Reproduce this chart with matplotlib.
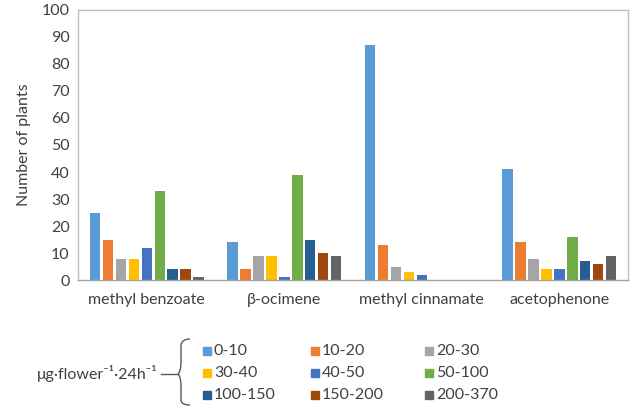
import matplotlib
matplotlib.use("Agg")
import matplotlib.pyplot as plt
import numpy as np
from matplotlib.patches import PathPatch, Rectangle
from matplotlib.path import Path

plt.rcParams['font.family'] = ['Lato', 'DejaVu Sans']

categories = ["methyl benzoate", "β-ocimene", "methyl cinnamate", "acetophenone"]
series_labels = ["0-10", "10-20", "20-30", "30-40", "40-50", "50-100", "100-150", "150-200", "200-370"]
colors = ["#5B9BD5", "#ED7D31", "#A5A5A5", "#FFC000", "#4472C4", "#70AD47", "#255E91", "#9E480E", "#636363"]
values = {
    "0-10":    [25, 14, 87, 41],
    "10-20":   [15, 4, 13, 14],
    "20-30":   [8, 9, 5, 8],
    "30-40":   [8, 9, 3, 4],
    "40-50":   [12, 1, 2, 4],
    "50-100":  [33, 39, 0, 16],
    "100-150": [4, 15, 0, 7],
    "150-200": [4, 10, 0, 6],
    "200-370": [1, 9, 0, 9],
}
yticks = list(range(0, 101, 10))

fig = plt.figure(figsize=(6.3, 4.09), dpi=100)
ax = fig.add_axes([0.124, 0.315, 0.873, 0.661])

x = np.arange(len(categories))
step = 0.094
width = 0.076
n = len(series_labels)
for i, lab in enumerate(series_labels):
    offs = (i - (n - 1) / 2) * step
    ax.bar(x + offs, values[lab], width=width, color=colors[i], label=lab)

ax.set_xlim(-0.5, len(categories) - 0.5)
ax.set_ylim(0, 100)
ax.set_yticks(yticks)
ax.set_xticks(x)
ax.set_xticklabels(categories)
ax.tick_params(axis='both', length=0, labelsize=11.5, colors='#404040', pad=6)
ax.tick_params(axis='x', pad=9)
for s in ax.spines.values():
    s.set_color('#BFBFBF')
    s.set_linewidth(1.0)
ax.spines['bottom'].set_color('#A6A6A6')
ax.set_ylabel("Number of plants", fontsize=11.5, color='#404040', labelpad=8)

# Legend
W, H = 630.0, 409.0
def fx(px): return px / W
def fy(py): return 1 - py / H

col_x = [203, 311, 425]
row_y = [351, 373, 395]
for i, lab in enumerate(series_labels):
    r, c = divmod(i, 3)
    fig.patches.append(Rectangle((fx(col_x[c]), fy(row_y[r] + 4)), fx(8), 8 / H,
                                 transform=fig.transFigure, color=colors[i]))
    fig.text(fx(col_x[c] + 11), fy(row_y[r]), lab, fontsize=11.5, color='#404040',
             va='center', ha='left')

fig.text(fx(37), fy(374), "μg·flower⁻¹·24h⁻¹",
         fontsize=11.5, color='#404040', va='center', ha='left')

# brace
verts = [
    (fx(190), fy(339)), (fx(182), fy(339)), (fx(181), fy(345)),
    (fx(181), fy(362)), (fx(181), fy(371)), (fx(178), fy(374)),
    (fx(178), fy(374)), (fx(181), fy(377)), (fx(181), fy(386)),
    (fx(181), fy(400)), (fx(181), fy(405)), (fx(190), fy(405)),
]
codes = [Path.MOVETO, Path.CURVE3, Path.CURVE3,
         Path.LINETO, Path.CURVE3, Path.CURVE3,
         Path.MOVETO, Path.CURVE3, Path.CURVE3,
         Path.LINETO, Path.CURVE3, Path.CURVE3]
fig.patches.append(PathPatch(Path(verts, codes), transform=fig.transFigure,
                             fill=False, edgecolor='#595959', lw=1.0))
fig.lines.append(plt.Line2D([fx(161), fx(178)], [fy(374), fy(374)],
                            transform=fig.transFigure, color='#595959', lw=1.0))

fig.savefig("out.png", dpi=100)
